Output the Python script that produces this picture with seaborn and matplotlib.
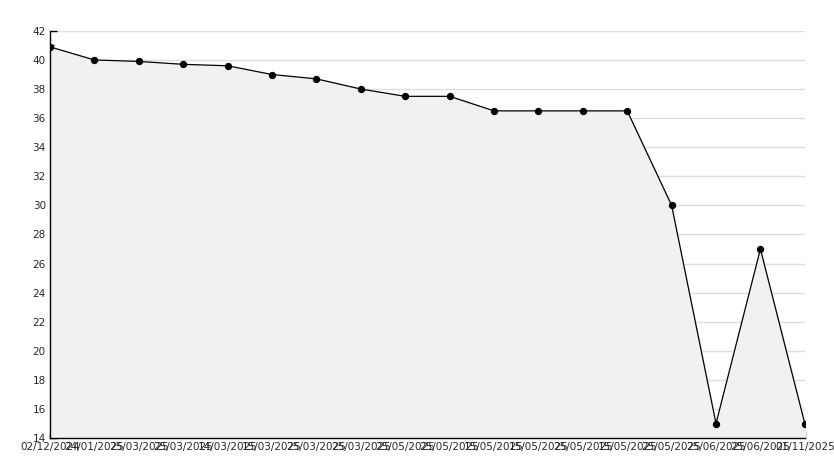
import numpy as np
import pandas as pd
import seaborn as sns
import matplotlib.pyplot as plt
from matplotlib.ticker import MultipleLocator

dates = ['02/12/2024', '24/01/2025', '25/03/2025', '25/03/2025', '14/03/2025',
         '15/03/2025', '25/03/2025', '25/03/2025', '25/05/2025', '25/05/2025',
         '15/05/2025', '15/05/2025', '25/05/2025', '15/05/2025', '25/05/2025',
         '25/06/2025', '25/06/2025', '01/11/2025']
values = [40.9, 40.0, 39.9, 39.7, 39.6, 39.0, 38.7, 38.0, 37.5, 37.5,
          36.5, 36.5, 36.5, 36.5, 30.0, 15.0, 27.0, 15.0]

df = pd.DataFrame({'idx': np.arange(len(values)), 'value': values})

sns.set_style('white')
plt.rcParams['font.family'] = ['DejaVu Sans']
fig = plt.figure(figsize=(8.34, 4.68), dpi=100)
ax = fig.add_axes([0.060, 0.064, 0.905, 0.870])

ax.fill_between(df['idx'], df['value'], 14, color='#f1f1f1', zorder=1)
sns.lineplot(data=df, x='idx', y='value', ax=ax, color='black', linewidth=0.9,
             marker='o', markersize=4.5, markeredgecolor='black', zorder=3)

ax.set_xlim(0, len(values) - 1)
ax.set_ylim(14, 42)
ax.yaxis.set_major_locator(MultipleLocator(2))
ax.yaxis.set_minor_locator(MultipleLocator(1))
ax.set_xticks(df['idx'])
ax.set_xticklabels(dates)
ax.grid(axis='y', which='major', color='#dddddd', linewidth=1, zorder=0)
ax.set_axisbelow(True)
ax.tick_params(axis='both', which='both', direction='in', color='black', labelsize=7.5)
ax.tick_params(axis='both', which='major', length=5, width=1, pad=3)
ax.tick_params(axis='y', which='minor', length=3, width=1, left=True)
ax.tick_params(axis='x', bottom=True)
ax.tick_params(axis='y', left=True)
for s in ['top', 'right']:
    ax.spines[s].set_visible(False)
for s in ['left', 'bottom']:
    ax.spines[s].set_color('black')
    ax.spines[s].set_linewidth(1)
ax.set_xlabel('')
ax.set_ylabel('')

fig.savefig('out.png', dpi=100)
